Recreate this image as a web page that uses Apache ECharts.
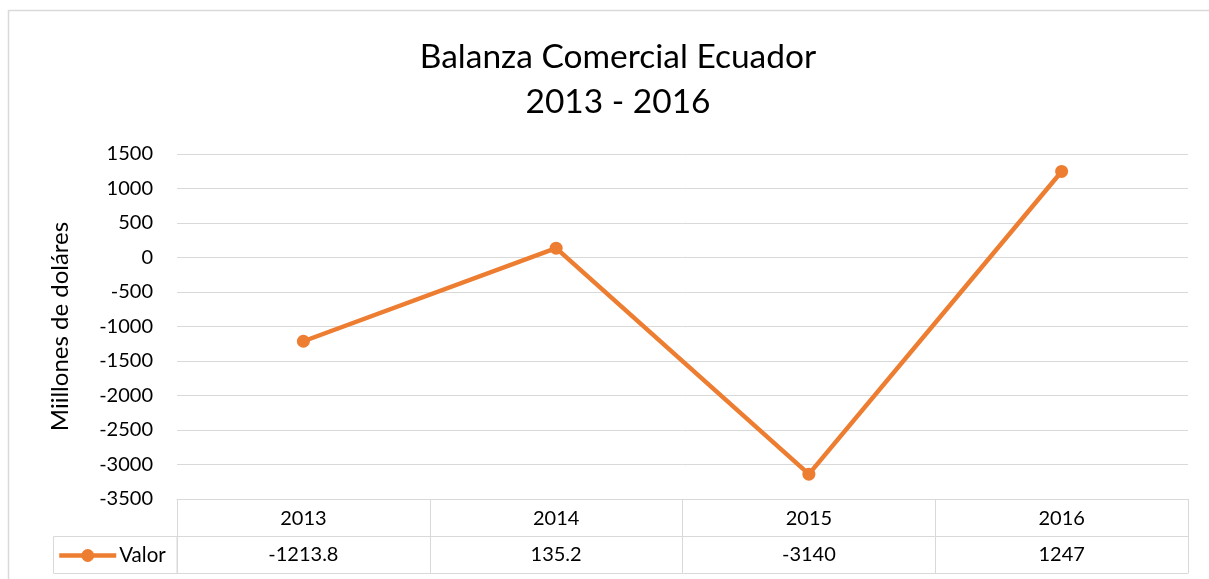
<!DOCTYPE html>
<html>
<head>
<meta charset="utf-8">
<script src="https://cdn.jsdelivr.net/npm/echarts@6/dist/echarts.min.js"></script>
<style>
  html, body { margin: 0; padding: 0; background: #fff; }
  #main { width: 1209px; height: 579px; }
</style>
</head>
<body>
<div id="main"></div>
<script>
// data
let years = ["2013", "2014", "2015", "2016"];
let valores = [-1213.8, 135.2, -3140, 1247];
let seriesName = "Valor";

let fontName = "Lato, 'Open Sans', sans-serif";
let textColor = "#000000";
let gridColor = "#d9d9d9";
let orange = "#ED7D31";
let rowH = 37;

let myChart = echarts.init(document.getElementById("main"));

let option = {
    animation: false,
    textStyle: { fontFamily: fontName },
    title: {
        text: "Balanza Comercial Ecuador\n2013 - 2016",
        left: 613,
        top: 30,
        textAlign: "center",
        textStyle: {
            fontFamily: fontName,
            fontSize: 33.5,
            fontWeight: "normal",
            color: textColor,
            lineHeight: 45
        }
    },
    grid: {
        left: 177,
        right: 21,
        top: 154,
        bottom: 80
    },
    xAxis: [
        {
            type: "category",
            data: years,
            position: "bottom",
            axisLine: { show: true, onZero: false, lineStyle: { color: gridColor, width: 1 } },
            axisTick: { show: true, length: rowH, lineStyle: { color: gridColor } },
            axisLabel: { color: textColor, fontSize: 20, margin: 10 }
        },
        {
            type: "category",
            data: years,
            position: "bottom",
            offset: rowH,
            axisLine: { show: true, onZero: false, lineStyle: { color: gridColor, width: 1 } },
            axisTick: { show: true, length: rowH, lineStyle: { color: gridColor } },
            axisLabel: {
                color: textColor,
                fontSize: 20,
                margin: 9,
                formatter: function (v, i) { return String(valores[i]); }
            }
        },
        {
            type: "category",
            data: years,
            position: "bottom",
            offset: rowH * 2,
            axisLine: { show: true, onZero: false, lineStyle: { color: gridColor, width: 1 } },
            axisTick: { show: false },
            axisLabel: { show: false }
        }
    ],
    yAxis: {
        type: "value",
        min: -3500,
        max: 1500,
        interval: 500,
        name: "Miillones de doláres",
        nameLocation: "middle",
        nameGap: 105,
        nameTextStyle: { color: textColor, fontSize: 24, fontFamily: fontName },
        axisLine: { show: false },
        axisTick: { show: false },
        axisLabel: {
            color: textColor,
            fontSize: 20,
            margin: 24,
            formatter: function (v) { return String(v); }
        },
        splitLine: { lineStyle: { color: gridColor, width: 1 } }
    },
    legend: {
        left: 57,
        top: 545,
        itemWidth: 57,
        itemHeight: 16,
        itemGap: 0,
        padding: 0,
        lineStyle: { width: 4.5 },
        textStyle: { color: textColor, fontSize: 20.5, fontFamily: fontName, padding: [0, 0, 0, -2] },
        data: [seriesName]
    },
    graphic: [
        {
            type: "rect",
            shape: { x: 8.5, y: 10.5, width: 1300, height: 700 },
            style: { fill: "none", stroke: gridColor, lineWidth: 1.5 },
            silent: true
        },
        {
            type: "rect",
            shape: { x: 53.5, y: 536.5, width: 123.5, height: rowH },
            style: { fill: "none", stroke: gridColor, lineWidth: 1 },
            silent: true
        }
    ],
    series: [
        {
            name: seriesName,
            type: "line",
            data: valores,
            symbol: "circle",
            symbolSize: 13,
            itemStyle: { color: orange },
            lineStyle: { color: orange, width: 4.5 }
        }
    ]
};

myChart.setOption(option);
</script>
</body>
</html>
